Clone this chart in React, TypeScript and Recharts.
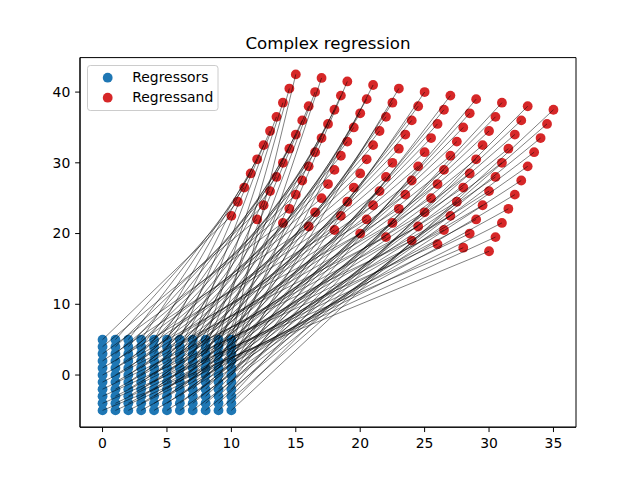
import React from 'react';
import { ScatterChart, Scatter, XAxis, YAxis, ReferenceLine, ReferenceArea } from 'recharts';

// Regressors: complex grid (real part, imaginary part)
const regressorRe = [0, 1, 2, 3, 4, 5, 6, 7, 8, 9, 10];
const regressorIm = [-5, -4, -3, -2, -1, 0, 1, 2, 3, 4, 5];

// Regressand values, one row per regressor real part (columns follow regressorIm)
const regressandRe = [
  [30, 28, 26, 24, 22, 20, 18, 16, 14, 12, 10],
  [30.5, 28.5, 26.5, 24.5, 22.5, 20.5, 18.5, 16.5, 14.5, 12.5, 10.5],
  [31, 29, 27, 25, 23, 21, 19, 17, 15, 13, 11],
  [31.5, 29.5, 27.5, 25.5, 23.5, 21.5, 19.5, 17.5, 15.5, 13.5, 11.5],
  [32, 30, 28, 26, 24, 22, 20, 18, 16, 14, 12],
  [32.5, 30.5, 28.5, 26.5, 24.5, 22.5, 20.5, 18.5, 16.5, 14.5, 12.5],
  [33, 31, 29, 27, 25, 23, 21, 19, 17, 15, 13],
  [33.5, 31.5, 29.5, 27.5, 25.5, 23.5, 21.5, 19.5, 17.5, 15.5, 13.5],
  [34, 32, 30, 28, 26, 24, 22, 20, 18, 16, 14],
  [34.5, 32.5, 30.5, 28.5, 26.5, 24.5, 22.5, 20.5, 18.5, 16.5, 14.5],
  [35, 33, 31, 29, 27, 25, 23, 21, 19, 17, 15],
];
const regressandIm = [
  [17.5, 18, 18.5, 19, 19.5, 20, 20.5, 21, 21.5, 22, 22.5],
  [19.5, 20, 20.5, 21, 21.5, 22, 22.5, 23, 23.5, 24, 24.5],
  [21.5, 22, 22.5, 23, 23.5, 24, 24.5, 25, 25.5, 26, 26.5],
  [23.5, 24, 24.5, 25, 25.5, 26, 26.5, 27, 27.5, 28, 28.5],
  [25.5, 26, 26.5, 27, 27.5, 28, 28.5, 29, 29.5, 30, 30.5],
  [27.5, 28, 28.5, 29, 29.5, 30, 30.5, 31, 31.5, 32, 32.5],
  [29.5, 30, 30.5, 31, 31.5, 32, 32.5, 33, 33.5, 34, 34.5],
  [31.5, 32, 32.5, 33, 33.5, 34, 34.5, 35, 35.5, 36, 36.5],
  [33.5, 34, 34.5, 35, 35.5, 36, 36.5, 37, 37.5, 38, 38.5],
  [35.5, 36, 36.5, 37, 37.5, 38, 38.5, 39, 39.5, 40, 40.5],
  [37.5, 38, 38.5, 39, 39.5, 40, 40.5, 41, 41.5, 42, 42.5],
];

const xTicks = [0, 5, 10, 15, 20, 25, 30, 35];
const yTicks = [0, 10, 20, 30, 40];
const xDomain: [number, number] = [-1.75, 36.75];
const yDomain: [number, number] = [-7.375, 44.875];

const titleText = 'Complex regression';
const legendLabels = ['Regressors', 'Regressand'];
const BLUE = '#1f77b4';
const RED = '#d62728';

const regressors = regressorRe.flatMap((re) => regressorIm.map((im) => ({ x: re, y: im })));
const regressand = regressandRe.flatMap((row, i) => row.map((re, j) => ({ x: re, y: regressandIm[i][j] })));
const links = regressors.map((p, k) => [p, regressand[k]]);

const tickStyle = { fill: '#000', fontSize: 13.9, fontFamily: 'DejaVu Sans' };
const FONT = 'DejaVu Sans';
const R = 4.9;

const dot = (color: string) => (p: any) => <circle cx={p.cx} cy={p.cy} r={R} fill={color} />;

export default function App() {
  return (
    <div style={{ position: 'absolute', left: 0, top: 0, width: 640, height: 480, background: '#fff' }}>
      <ScatterChart width={640} height={480} margin={{ top: 57.6, right: 64, bottom: 22.8, left: 20 }}>
        <XAxis
          type="number"
          dataKey="x"
          domain={xDomain}
          ticks={xTicks}
          allowDataOverflow
          height={30}
          tickSize={4.86}
          tickMargin={6.5}
          tick={tickStyle}
          axisLine={{ stroke: '#000', strokeWidth: 1 }}
          tickLine={{ stroke: '#000', strokeWidth: 1 }}
        />
        <YAxis
          type="number"
          dataKey="y"
          domain={yDomain}
          ticks={yTicks}
          allowDataOverflow
          width={60}
          tickSize={4.86}
          tickMargin={4.86}
          tick={tickStyle}
          axisLine={{ stroke: '#000', strokeWidth: 1 }}
          tickLine={{ stroke: '#000', strokeWidth: 1 }}
        />
        <ReferenceArea
          x1={xDomain[0]}
          x2={xDomain[1]}
          y1={yDomain[0]}
          y2={yDomain[1]}
          fill="none"
          fillOpacity={0}
          stroke="#000"
          strokeWidth={1}
          ifOverflow="visible"
        />
        <Scatter data={regressors} fill={BLUE} isAnimationActive={false} shape={dot(BLUE)} />
        <Scatter data={regressand} fill={RED} isAnimationActive={false} shape={dot(RED)} />
        {links.map(([a, b], k) => (
          <ReferenceLine
            key={k}
            segment={[{ x: a.x, y: a.y }, { x: b.x, y: b.y }]}
            stroke="#000"
            strokeWidth={0.5}
            ifOverflow="visible"
            zIndex={700}
          />
        ))}
      </ScatterChart>
      <svg width={640} height={480} style={{ position: 'absolute', left: 0, top: 0, pointerEvents: 'none' }}>
        <text x={328} y={49} textAnchor="middle" fontFamily={FONT} fontSize={16.67} fill="#000">
          {titleText}
        </text>
        <rect x={87.5} y={65.5} width={130.5} height={45} rx={2.8} fill="#fff" fillOpacity={0.8} stroke="#cccccc" strokeWidth={1} />
        <circle cx={107.7} cy={77.7} r={R} fill={BLUE} />
        <circle cx={107.7} cy={97.7} r={R} fill={RED} />
        <text x={132.3} y={82.3} fontFamily={FONT} fontSize={13.9} fill="#000">
          {legendLabels[0]}
        </text>
        <text x={132.3} y={102.3} fontFamily={FONT} fontSize={13.9} fill="#000">
          {legendLabels[1]}
        </text>
      </svg>
    </div>
  );
}
